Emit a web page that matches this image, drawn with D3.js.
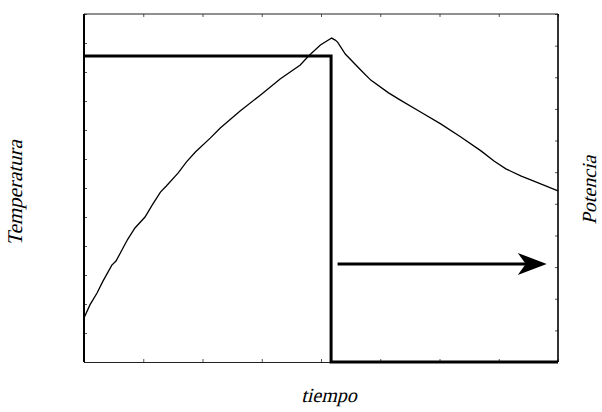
<!DOCTYPE html>
<html>
<head>
<meta charset="utf-8">
<script src="https://cdn.jsdelivr.net/npm/d3@7"></script>
<style>
  body { margin: 0; background: #fff; }
  .lbl { font-family: "Liberation Serif", "DejaVu Serif", serif; font-size: 20px; }
</style>
</head>
<body>
<script>
// time axis runs 0..8, temperature 0..12 (left), power 0..11 (right)
const tiempo = [0, 0.10, 0.22, 0.32, 0.47, 0.54, 0.64, 0.74, 0.86, 1.03, 1.15, 1.29, 1.39, 1.59,
    1.73, 1.88, 2.13, 2.30, 2.64, 2.98, 3.31, 3.65, 3.79, 3.99, 4.18, 4.24, 4.28, 4.41, 4.67, 4.84,
    5.14, 5.34, 5.68, 6.02, 6.36, 6.70, 6.92, 7.12, 7.38, 7.54, 8];
const temperatura = [1.52, 1.97, 2.38, 2.79, 3.34, 3.48, 3.86, 4.24, 4.62, 5.00, 5.41, 5.86, 6.07, 6.52,
    6.90, 7.24, 7.72, 8.07, 8.66, 9.21, 9.76, 10.24, 10.55, 10.93, 11.17, 11.10, 11.03, 10.62, 10.07, 9.72,
    9.28, 9.03, 8.62, 8.21, 7.76, 7.28, 6.93, 6.66, 6.41, 6.28, 5.90];

const potenciaT = [0, 4.17, 4.17, 8];
const potencia = [9.67, 9.67, 0, 0];

const flechaT = [4.28, 7.81];
const flechaP = 3.10;

const w = 602, h = 412;
const margin = { top: 14, right: 44, bottom: 50, left: 84 };

const svg = d3.select('body').append('svg')
    .attr('width', w)
    .attr('height', h);

const x = d3.scaleLinear()
    .domain([0, 8])
    .range([margin.left, w - margin.right]);

const yT = d3.scaleLinear()
    .domain([0, 12])
    .range([h - margin.bottom, margin.top]);

const yP = d3.scaleLinear()
    .domain([0, 11])
    .range([h - margin.bottom, margin.top]);

// ticks, pointing inward
const tickAxis = (axis, transform) => {
    svg.append("g")
        .attr("transform", transform)
        .call(axis.tickFormat("").tickSizeOuter(0))
        .call(g => g.select(".domain").remove())
        .call(g => g.selectAll("line").attr("stroke", "#555").attr("stroke-width", 1));
};
tickAxis(d3.axisLeft(yT).ticks(12).tickSizeInner(-3), 'translate(' + margin.left + ',0)');
tickAxis(d3.axisRight(yP).ticks(11).tickSizeInner(-3), 'translate(' + (w - margin.right) + ',0)');
tickAxis(d3.axisBottom(x).ticks(8).tickSizeInner(-3), 'translate(0,' + (h - margin.bottom) + ')');
tickAxis(d3.axisTop(x).ticks(8).tickSizeInner(-3), 'translate(0,' + margin.top + ')');

// frame
const x0 = x.range()[0], x1 = x.range()[1], y0 = yT.range()[0], y1 = yT.range()[1];
svg.append("line").attr("x1", x0).attr("x2", x1).attr("y1", y1).attr("y2", y1)
    .attr("stroke", "#222").attr("stroke-width", 1.2);
svg.append("line").attr("x1", x0).attr("x2", x1).attr("y1", y0 + 0.5).attr("y2", y0 + 0.5)
    .attr("stroke", "#222").attr("stroke-width", 1.2);
svg.append("line").attr("x1", x0).attr("x2", x0).attr("y1", y1).attr("y2", y0)
    .attr("stroke", "#000").attr("stroke-width", 2);
svg.append("line").attr("x1", x1).attr("x2", x1).attr("y1", y1).attr("y2", y0)
    .attr("stroke", "#000").attr("stroke-width", 1.6);

// temperature curve
const lineT = d3.line()
    .x((d, i) => x(tiempo[i]))
    .y(d => yT(d));

svg.append("path")
    .datum(temperatura)
    .attr("d", lineT)
    .attr("fill", "none")
    .attr("stroke", "#000")
    .attr("stroke-width", 1.3);

// power step
const lineP = d3.line()
    .x((d, i) => x(potenciaT[i]))
    .y(d => yP(d));

svg.append("path")
    .datum(potencia)
    .attr("d", lineP)
    .attr("fill", "none")
    .attr("stroke", "#000")
    .attr("stroke-width", 3);

// arrow
const ax0 = x(flechaT[0]), ax1 = x(flechaT[1]), ay = yP(flechaP);
svg.append("line")
    .attr("x1", ax0).attr("x2", ax1 - 18)
    .attr("y1", ay).attr("y2", ay)
    .attr("stroke", "#000")
    .attr("stroke-width", 3);
svg.append("path")
    .attr("d", "M" + ax1 + "," + ay +
        "L" + (ax1 - 29) + "," + (ay - 11) +
        "L" + (ax1 - 21) + "," + ay +
        "L" + (ax1 - 29) + "," + (ay + 11) + "Z")
    .attr("fill", "#000");

// labels, slanted by hand
const label = (txt, transform, size) => svg.append("text")
    .attr("class", "lbl")
    .attr("transform", transform + " skewX(-14)")
    .attr("text-anchor", "middle")
    .style("font-size", size + "px")
    .text(txt);

label("Temperatura", "translate(22,193) rotate(-90)", 21);
label("Potencia", "translate(596,190) rotate(-90)", 20);
label("tiempo", "translate(329,402)", 20);
</script>
</body>
</html>
